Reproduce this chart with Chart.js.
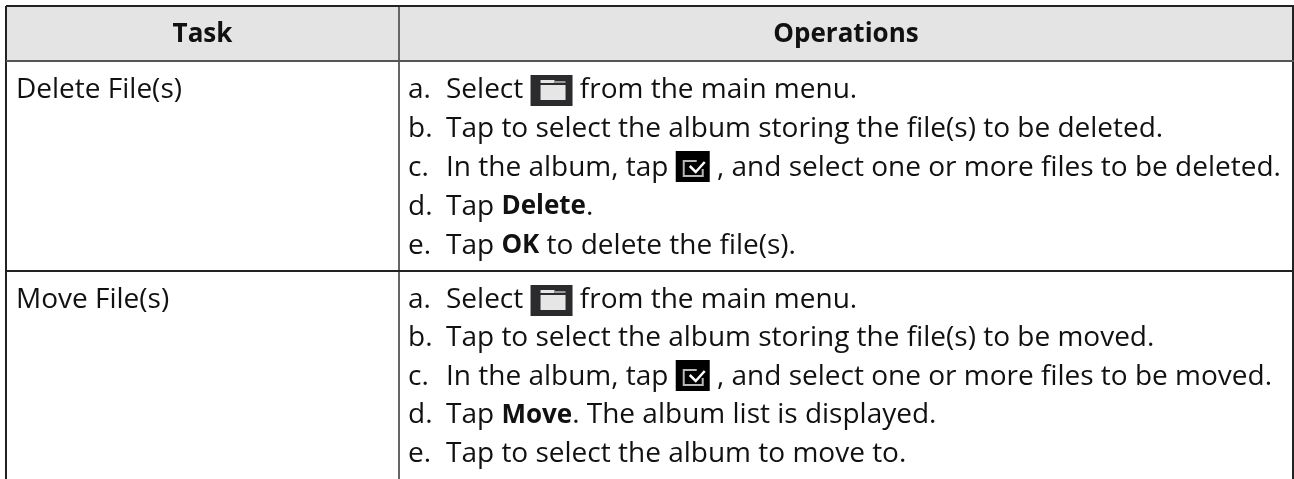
<!DOCTYPE html>
<html lang="en">
<head>
    <meta charset="UTF-8">
    <title>File Operations</title>
    <script src="https://cdn.jsdelivr.net/npm/chart.js"></script>
    <style>
        html, body { margin: 0; padding: 0; background: #fff; overflow: hidden; }
        .chart-container { position: relative; width: 1294px; height: 479px; }
    </style>
</head>
<body>
    <div class="chart-container"><canvas id="tableChart"></canvas></div>

    <script>
        const columnHeaders = ['Task', 'Operations'];
        const taskNames = ['Delete File(s)', 'Move File(s)'];
        const stepLetters = ['a.', 'b.', 'c.', 'd.', 'e.'];
        // *word* is bold, #name# is an icon
        const deleteSteps = [
            'Select #folder# from the main menu.',
            'Tap to select the album storing the file(s) to be deleted.',
            'In the album, tap #check# , and select one or more files to be deleted.',
            'Tap *Delete*.',
            'Tap *OK* to delete the file(s).'
        ];
        const moveSteps = [
            'Select #folder# from the main menu.',
            'Tap to select the album storing the file(s) to be moved.',
            'In the album, tap #check# , and select one or more files to be moved.',
            'Tap *Move*. The album list is displayed.',
            'Tap to select the album to move to.'
        ];
        const columnLines = [6, 399, 1293];
        const rowLines = [6, 61, 271];

        const BODY_FONT = '28px "Open Sans", Lato, sans-serif';
        const BOLD_FONT = 'bold 26px "Open Sans", Lato, sans-serif';
        const LINE_PITCH = [39, 38.5];
        const FIRST_LINE = 27;
        const TEXT_DROP = 2; // Open Sans sits a little high on a middle baseline

        function drawIcon(ctx, name, x, y) {
            if (name === 'folder') {
                ctx.fillStyle = '#2b2b2d';
                ctx.fillRect(x, y - 13, 42, 31);
                ctx.fillStyle = '#e6e6e6';
                ctx.fillRect(x + 10, y - 8, 14, 3);
                ctx.fillRect(x + 10, y - 3, 25, 15);
                ctx.fillStyle = '#9a9a9a';
                ctx.fillRect(x + 24, y - 7, 11, 2);
                return 42;
            }
            ctx.fillStyle = '#000';
            ctx.fillRect(x, y - 15, 34, 31);
            ctx.strokeStyle = '#b8b8b8';
            ctx.lineWidth = 2;
            ctx.beginPath();
            ctx.moveTo(x + 21, y - 5);
            ctx.lineTo(x + 8, y - 5);
            ctx.lineTo(x + 8, y + 10);
            ctx.lineTo(x + 27, y + 10);
            ctx.lineTo(x + 27, y + 3);
            ctx.stroke();
            ctx.strokeStyle = '#fff';
            ctx.lineWidth = 2.5;
            ctx.beginPath();
            ctx.moveTo(x + 14, y);
            ctx.lineTo(x + 20, y + 6);
            ctx.lineTo(x + 29, y - 4);
            ctx.stroke();
            return 34;
        }

        function drawStep(ctx, text, x, y) {
            text.split(/(\*[^*]+\*|#\w+#)/).filter(Boolean).forEach(part => {
                if (part[0] === '#') {
                    x += drawIcon(ctx, part.slice(1, -1), x, y);
                    return;
                }
                const bold = part[0] === '*';
                const words = bold ? part.slice(1, -1) : part;
                ctx.font = bold ? BOLD_FONT : BODY_FONT;
                ctx.fillStyle = '#111';
                ctx.fillText(words, x, y + TEXT_DROP);
                x += ctx.measureText(words).width;
            });
        }

        const tableText = {
            id: 'tableText',
            afterDatasetsDraw(chart) {
                const { ctx, scales: { x, y } } = chart;
                ctx.save();
                ctx.textBaseline = 'middle';

                ctx.textAlign = 'center';
                ctx.fillStyle = '#111';
                ctx.font = BOLD_FONT;
                columnHeaders.forEach((header, i) => {
                    const mid = (columnLines[i] + columnLines[i + 1]) / 2;
                    ctx.fillText(header, x.getPixelForValue(mid), y.getPixelForValue((rowLines[0] + rowLines[1]) / 2) + 1);
                });

                ctx.textAlign = 'left';
                [deleteSteps, moveSteps].forEach((steps, r) => {
                    const top = rowLines[r + 1] + FIRST_LINE;
                    ctx.font = BODY_FONT;
                    ctx.fillStyle = '#111';
                    ctx.fillText(taskNames[r], x.getPixelForValue(columnLines[0] + 10), y.getPixelForValue(top) + TEXT_DROP);
                    steps.forEach((step, i) => {
                        const lineY = y.getPixelForValue(top + i * LINE_PITCH[r]);
                        ctx.font = BODY_FONT;
                        ctx.fillStyle = '#111';
                        ctx.fillText(stepLetters[i], x.getPixelForValue(columnLines[1] + 9), lineY + TEXT_DROP);
                        drawStep(ctx, step, x.getPixelForValue(columnLines[1] + 47), lineY);
                    });
                });
                ctx.restore();
            }
        };

        new Chart(document.getElementById('tableChart'), {
            type: 'bar',
            plugins: [tableText],
            data: {
                datasets: [{
                    data: [{ y: (rowLines[0] + rowLines[1]) / 2, x: [columnLines[0], columnLines[2]] }],
                    backgroundColor: '#e4e4e4',
                    barThickness: rowLines[1] - rowLines[0]
                }]
            },
            options: {
                indexAxis: 'y',
                responsive: true,
                maintainAspectRatio: false,
                animation: false,
                layout: { padding: { left: 6, top: 6, right: 0, bottom: 0 } },
                plugins: { legend: { display: false }, tooltip: { enabled: false } },
                scales: {
                    x: {
                        type: 'linear',
                        min: columnLines[0],
                        max: 1294,
                        afterBuildTicks: scale => { scale.ticks = columnLines.map(value => ({ value })); },
                        ticks: { display: false },
                        border: { display: false },
                        grid: {
                            z: 1,
                            drawTicks: false,
                            color: ctx => (ctx.index === 1 ? '#666' : '#222'),
                            lineWidth: 2
                        }
                    },
                    y: {
                        type: 'linear',
                        reverse: true,
                        offset: false,
                        min: rowLines[0],
                        max: 479,
                        afterBuildTicks: scale => { scale.ticks = rowLines.map(value => ({ value })); },
                        ticks: { display: false },
                        border: { display: false },
                        grid: {
                            z: 1,
                            offset: false,
                            drawTicks: false,
                            color: ctx => (ctx.index === 1 ? '#555' : '#222'),
                            lineWidth: 2
                        }
                    }
                }
            }
        });
    </script>
</body>
</html>
